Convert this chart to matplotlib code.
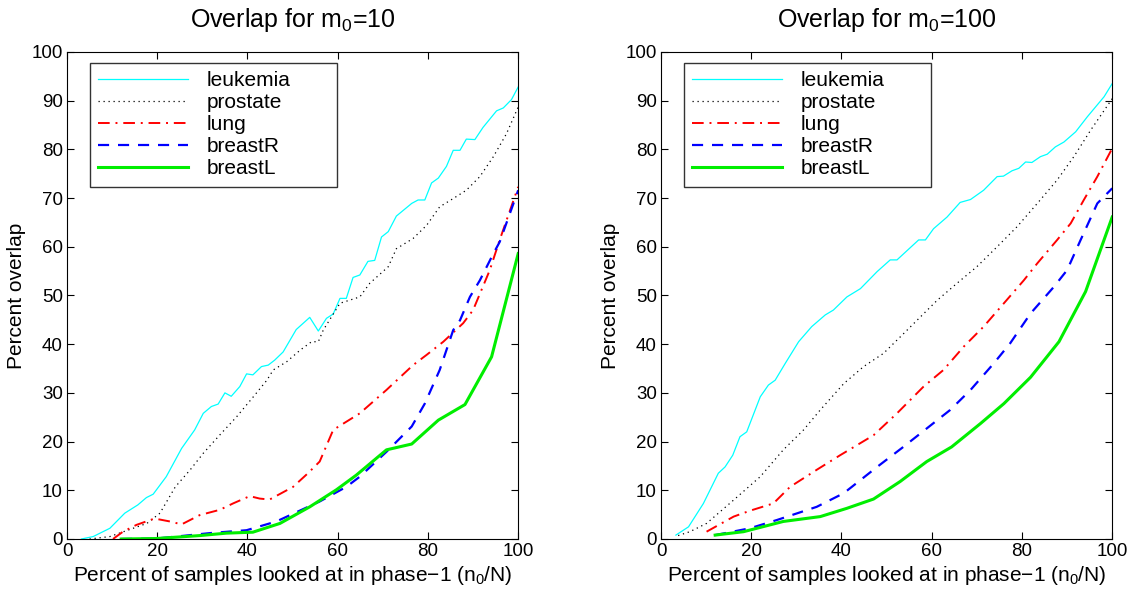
import matplotlib
matplotlib.use('Agg')
import matplotlib.pyplot as plt

plt.rcParams['font.family'] = ['Liberation Sans', 'DejaVu Sans']
plt.rcParams['mathtext.fontset'] = 'custom'
plt.rcParams['mathtext.rm'] = 'Liberation Sans'
plt.rcParams['mathtext.it'] = 'Liberation Sans'

# ---- m0 = 10 ----
leuk10_x = [3.2, 5.8, 9.5, 12.8, 15.7, 17.6, 19.1, 22.0, 25.4, 28.3, 30.2, 32.0, 33.5, 35.0, 36.4,
            38.3, 39.8, 41.2, 43.1, 44.6, 46.0, 47.9, 50.8, 53.8, 55.7, 57.5, 59.0, 60.5, 61.9,
            63.4, 64.9, 66.7, 68.2, 69.7, 71.2, 73.0, 76.4, 77.8, 79.3, 80.8, 82.3, 84.1, 85.6,
            87.1, 88.5, 90.4, 92.2, 95.2, 96.7, 98.5, 100]
leuk10_y = [0, 0.5, 2.2, 5.3, 7.0, 8.5, 9.2, 12.8, 18.6, 22.4, 25.8, 27.2, 27.7, 30.0, 29.3,
            31.3, 33.9, 33.7, 35.4, 35.7, 36.7, 38.4, 43.0, 45.5, 42.7, 45.3, 46.2, 49.4, 49.4,
            53.7, 54.2, 57.0, 57.2, 62.0, 63.1, 66.3, 68.9, 69.6, 69.6, 73.1, 74.1, 76.5, 79.8,
            79.8, 82.1, 82.0, 84.5, 87.9, 88.5, 90.2, 92.8]

pros10_x = [5.0, 9.5, 17.7, 20.6, 24.0, 27.3, 30.2, 33.9, 37.6, 41.3, 44.3, 45.7, 48.7, 51.7,
            54.2, 55.7, 56.8, 60.5, 64.9, 67.1, 71.2, 73.0, 76.7, 79.7, 82.6, 85.6, 88.5, 91.5,
            94.5, 97.4, 100]
pros10_y = [0, 0.5, 3.2, 5.3, 10.7, 14.2, 17.6, 21.4, 25.1, 29.2, 32.6, 34.7, 36.4, 38.8,
            40.5, 40.5, 42.9, 48.4, 49.7, 52.5, 55.9, 59.6, 61.7, 64.4, 68.2, 69.9, 71.6, 74.4,
            78.5, 83.2, 88.7]

lung10_x = [10.2, 12.4, 15.4, 19.4, 22.8, 25.4, 29.4, 33.9, 36.8, 40.5, 42.7, 44.9, 50.1, 53.4,
            56.0, 59.0, 64.9, 70.8, 76.7, 79.7, 83.4, 87.8, 90.0, 93.7, 95.9, 100]
lung10_y = [0, 1.5, 2.9, 4.2, 3.6, 3.0, 4.9, 6.0, 7.3, 8.8, 8.3, 8.1, 10.7, 13.5,
            15.9, 22.4, 25.8, 30.6, 35.7, 37.8, 40.5, 44.3, 47.0, 55.2, 61.4, 72.3]

brR10_x = [12.0, 19.8, 24.2, 31.6, 39.8, 46.4, 56.0, 61.9, 64.9, 70.8, 76.4, 79.3, 82.6, 85.6,
           87.1, 89.3, 91.5, 94.5, 95.9, 100]
brR10_y = [0, 0.1, 0.5, 1.2, 1.8, 3.6, 7.7, 10.7, 12.8, 17.9, 23.1, 27.8, 34.7, 42.9,
           44.9, 49.7, 53.1, 58.6, 61.0, 71.6]

brL10_x = [12.0, 19.8, 29.4, 35.3, 41.2, 47.2, 53.8, 59.7, 64.1, 70.8, 76.4, 82.3, 88.2, 94.1, 100]
brL10_y = [0, 0.1, 0.7, 1.2, 1.4, 3.2, 6.6, 10.1, 13.1, 18.3, 19.5, 24.4, 27.6, 37.4, 58.6]

# ---- m0 = 100 ----
leuk100_x = [3.3, 6.1, 9.4, 12.7, 14.2, 15.9, 17.5, 19.0, 22.0, 23.8, 25.3, 27.5, 30.5, 33.4,
             36.4, 38.2, 41.2, 44.2, 47.9, 50.8, 52.3, 57.1, 58.6, 60.4, 63.4, 66.3, 68.6, 71.5,
             74.5, 75.9, 77.8, 79.3, 80.8, 82.2, 84.1, 85.6, 87.4, 89.3, 91.9, 94.5, 98.2, 100]
leuk100_y = [0.8, 2.5, 7.3, 13.5, 14.8, 17.2, 21.0, 22.0, 29.2, 31.6, 32.6, 36.0, 40.5, 43.6,
             46.0, 47.0, 49.7, 51.4, 54.9, 57.3, 57.3, 61.4, 61.4, 63.7, 66.1, 69.1, 69.7, 71.6,
             74.4, 74.5, 75.6, 76.1, 77.4, 77.3, 78.5, 79.0, 80.5, 81.5, 83.6, 86.7, 90.8, 93.5]

pros100_x = [3.8, 6.4, 10.1, 16.1, 22.0, 27.1, 31.6, 35.3, 40.5, 44.9, 49.3, 53.8, 57.5, 61.2,
             65.6, 70.0, 74.5, 78.9, 83.4, 87.8, 91.5, 95.2, 100]
pros100_y = [0.7, 1.5, 3.2, 8.0, 12.8, 18.3, 22.4, 26.5, 31.9, 35.4, 38.1, 42.2, 45.6, 49.0,
             52.5, 55.9, 60.0, 64.1, 68.9, 73.7, 78.5, 83.9, 90.4]

lung100_x = [10.1, 16.1, 19.7, 24.9, 28.6, 34.5, 39.7, 47.1, 52.3, 58.2, 62.6, 67.1, 71.5, 76.0,
             80.4, 83.4, 87.8, 90.8, 93.7, 96.7, 100]
lung100_y = [1.5, 4.6, 5.8, 7.3, 10.7, 14.2, 17.2, 21.3, 25.8, 31.3, 34.7, 39.5, 43.6, 48.4,
             53.1, 56.6, 61.4, 64.8, 69.6, 74.4, 80.2]

brR100_x = [12.0, 19.7, 25.7, 34.5, 40.5, 47.9, 53.7, 58.9, 64.1, 68.6, 73.7, 77.4, 81.9, 87.1,
            90.0, 93.0, 96.7, 100]
brR100_y = [0.8, 2.2, 3.9, 6.6, 9.4, 14.8, 18.9, 22.7, 26.5, 30.6, 36.0, 40.2, 46.3, 51.8,
            55.2, 61.4, 68.9, 72.0]

brL100_x = [12.0, 18.3, 27.1, 35.3, 41.2, 47.1, 53.0, 58.9, 64.4, 70.8, 76.0, 81.9, 88.2, 94.1, 100]
brL100_y = [0.8, 1.5, 3.6, 4.6, 6.3, 8.2, 11.8, 15.9, 18.9, 23.7, 27.8, 33.2, 40.5, 50.8, 66.1]

labels = ['leukemia', 'prostate', 'lung', 'breastR', 'breastL']
titles = ['Overlap for m$_0$=10', 'Overlap for m$_0$=100']

styles = [
    dict(color='#00ffff', linestyle='-', linewidth=0.9),
    dict(color='black', linestyle=(0, (1, 3)), linewidth=0.9),
    dict(color='red', linestyle=(0, (6, 3, 1, 3)), linewidth=1.4),
    dict(color='blue', linestyle=(0, (5, 4)), linewidth=1.6),
    dict(color='#00ee00', linestyle='-', linewidth=2.2),
]

panels = [
    [(leuk10_x, leuk10_y), (pros10_x, pros10_y), (lung10_x, lung10_y),
     (brR10_x, brR10_y), (brL10_x, brL10_y)],
    [(leuk100_x, leuk100_y), (pros100_x, pros100_y), (lung100_x, lung100_y),
     (brR100_x, brR100_y), (brL100_x, brL100_y)],
]

fig = plt.figure(figsize=(11.28, 5.94), dpi=100)
lefts = [0.0594, 0.586]
for i in range(2):
    ax = fig.add_axes([lefts[i], 0.0926, 0.40, 0.82])
    for (xs, ys), lab, st in zip(panels[i], labels, styles):
        ax.plot(xs, ys, label=lab, **st)
    ax.set_xlim(0, 100)
    ax.set_ylim(0, 100)
    ax.set_xticks(range(0, 101, 20))
    ax.set_yticks(range(0, 101, 10))
    ax.tick_params(direction='in', top=True, right=True, labelsize=13.5, length=5, pad=3)
    ax.set_title(titles[i], fontsize=18, pad=18)
    ax.set_xlabel('Percent of samples looked at in phase\u22121 (n$_0$/N)', fontsize=15, labelpad=3)
    ax.set_ylabel('Percent overlap', fontsize=15, labelpad=4)
    # legend box stretched to the width used in the original figure
    leg = ax.legend(loc='upper left', bbox_to_anchor=(0.051, 0.72, 0.547, 0.258),
                    mode='expand', fontsize=15,
                    handlelength=4.3, fancybox=False, edgecolor='black',
                    borderaxespad=0, labelspacing=0.15, handletextpad=0.9,
                    borderpad=0.4)
    leg.get_frame().set_linewidth(1.0)

fig.savefig('out.png', dpi=100)
